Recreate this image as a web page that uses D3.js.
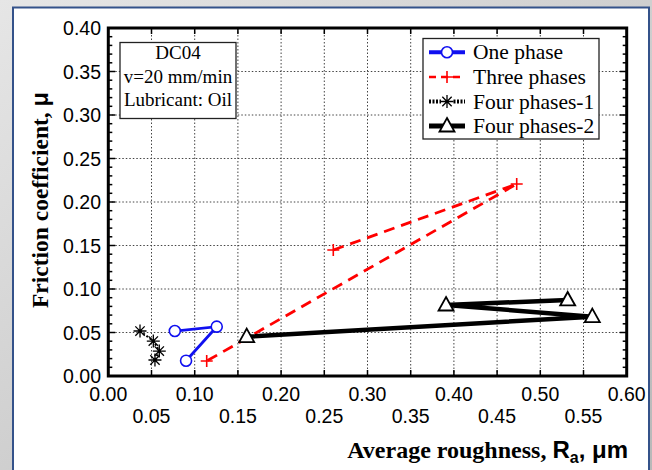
<!DOCTYPE html>
<html><head><meta charset="utf-8">
<script src="https://cdn.jsdelivr.net/npm/d3@7"></script>
<style>body{margin:0;background:#fff}svg{display:block}</style>
</head><body>
<script>
// ---- data ----
const onePhaseX = [0.077, 0.1255, 0.090];
const onePhaseY = [0.0517, 0.0567, 0.0176];
const threePhasesX = [0.2604, 0.4727, 0.1139];
const threePhasesY = [0.1448, 0.2207, 0.0172];
const fourPhases1X = [0.0367, 0.0521, 0.059, 0.054];
const fourPhases1Y = [0.0517, 0.0402, 0.0287, 0.0184];
const fourPhases2X = [0.1602, 0.5602, 0.3909, 0.5317];
const fourPhases2Y = [0.0452, 0.0682, 0.0816, 0.0874];
const xTicks = [0.00,0.05,0.10,0.15,0.20,0.25,0.30,0.35,0.40,0.45,0.50,0.55,0.60];
const yTicks = [0.00,0.05,0.10,0.15,0.20,0.25,0.30,0.35,0.40];
const seriesNames = ["One phase","Three phases","Four phases-1","Four phases-2"];
const infoLines = ["DC04","v=20 mm/min","Lubricant: Oil"];

const W=652,H=470;
const L=108.3,R=626.7,T=28,B=376;
const svg=d3.select("body").append("svg").attr("width",W).attr("height",H);
const defs=svg.append("defs");
const g1=defs.append("linearGradient").attr("id","bg").attr("x1",0).attr("y1",0).attr("x2",1).attr("y2",1);
g1.append("stop").attr("offset",0).attr("stop-color","#e6e6e6");
g1.append("stop").attr("offset",1).attr("stop-color","#b8b8b8");
svg.append("rect").attr("width",W).attr("height",H).attr("fill","url(#bg)");
svg.append("rect").attr("x",13).attr("y",7.5).attr("width",636).attr("height",480)
  .attr("fill","#fff").attr("stroke","#34528a").attr("stroke-width",2);

const x=d3.scaleLinear().domain([0,0.6]).range([L,R]);
const y=d3.scaleLinear().domain([0,0.4]).range([B,T]);

// grid
const grid=svg.append("g").attr("stroke","#444").attr("stroke-width",1).attr("stroke-dasharray","1.5,2");
xTicks.slice(1,-1).forEach(v=>grid.append("line").attr("x1",x(v)).attr("x2",x(v)).attr("y1",T).attr("y2",B));
yTicks.slice(1,-1).forEach(v=>grid.append("line").attr("y1",y(v)).attr("y2",y(v)).attr("x1",L).attr("x2",R));

// ticks (inward)
const tk=svg.append("g").attr("stroke","#000").attr("stroke-width",1.5);
const yMinor=d3.range(0,0.4001,0.01);
yMinor.forEach(v=>{
  const major=Math.abs(v*20-Math.round(v*20))<1e-6;
  const len=major?7:4;
  tk.append("line").attr("x1",L).attr("x2",L+len).attr("y1",y(v)).attr("y2",y(v));
  tk.append("line").attr("x1",R).attr("x2",R-len).attr("y1",y(v)).attr("y2",y(v));
});
xTicks.forEach(v=>{
  tk.append("line").attr("x1",x(v)).attr("x2",x(v)).attr("y1",B).attr("y2",B-6);
  tk.append("line").attr("x1",x(v)).attr("x2",x(v)).attr("y1",T).attr("y2",T+6);
});

// frame
svg.append("rect").attr("x",L).attr("y",T).attr("width",R-L).attr("height",B-T)
  .attr("fill","none").attr("stroke","#000").attr("stroke-width",3);

// tick labels
const tf="'Liberation Sans', Arial, sans-serif";
svg.append("g").selectAll("text").data(yTicks).join("text")
  .attr("x",101).attr("y",d=>y(d)).attr("dy","0.36em").attr("text-anchor","end")
  .attr("font-family",tf).attr("font-size",19.5).text(d=>d.toFixed(2));
svg.append("g").selectAll("text").data(xTicks).join("text")
  .attr("x",d=>x(d)).attr("y",(d,i)=>i%2===0?401:423).attr("text-anchor","middle")
  .attr("font-family",tf).attr("font-size",19.5).text(d=>d.toFixed(2));

// axis titles
const serif="'Liberation Serif','Times New Roman',serif";
const yl=svg.append("text").attr("transform","translate(48,200) rotate(-90)").attr("text-anchor","middle")
  .attr("font-family",serif).attr("font-weight","bold").attr("font-size",23.5);
yl.append("tspan").text("Friction coefficient, ");
yl.append("tspan").attr("font-family",tf).text("μ");
const xl=svg.append("text").attr("x",628).attr("y",458).attr("text-anchor","end")
  .attr("font-family",serif).attr("font-weight","bold").attr("font-size",24);
xl.append("tspan").text("Average roughness, ");
xl.append("tspan").attr("font-family",tf).text("R");
xl.append("tspan").attr("font-family",tf).attr("font-size",16).attr("dy",5).text("a");
xl.append("tspan").attr("font-family",tf).attr("dy",-5).text(", μm");

// series
const line=d3.line().x(d=>x(d[0])).y(d=>y(d[1]));
const zip=(a,b)=>a.map((v,i)=>[v,b[i]]);
const s1=zip(onePhaseX,onePhaseY), s2=zip(threePhasesX,threePhasesY),
      s3=zip(fourPhases1X,fourPhases1Y), s4=zip(fourPhases2X,fourPhases2Y);
const plot=svg.append("g");
plot.append("path").attr("d",line(s3)).attr("fill","none").attr("stroke","#000").attr("stroke-width",2).attr("stroke-dasharray","2,2");
plot.append("path").attr("d",line(s1)).attr("fill","none").attr("stroke","#1010f0").attr("stroke-width",2.8);
plot.append("path").attr("d",line(s2)).attr("fill","none").attr("stroke","#ff0000").attr("stroke-width",2.8).attr("stroke-dasharray","11,7");
plot.append("path").attr("d",line(s4)).attr("fill","none").attr("stroke","#000").attr("stroke-width",4.5);

function circle(g,cx,cy){g.append("circle").attr("cx",cx).attr("cy",cy).attr("r",5.5).attr("fill","#fff").attr("stroke","#1010f0").attr("stroke-width",1.6);}
function plus(g,cx,cy){g.append("path").attr("d",`M${cx-6},${cy}H${cx+6}M${cx},${cy-6}V${cy+6}`).attr("stroke","#ff0000").attr("stroke-width",1.6);}
function star(g,cx,cy){const r=6.5,d=r*0.72;g.append("path").attr("d",`M${cx-r},${cy}H${cx+r}M${cx},${cy-r}V${cy+r}M${cx-d},${cy-d}L${cx+d},${cy+d}M${cx-d},${cy+d}L${cx+d},${cy-d}`).attr("stroke","#000").attr("stroke-width",1.3);}
function tri(g,cx,cy){g.append("path").attr("d",`M${cx},${cy-8}L${cx+7.5},${cy+5.5}L${cx-7.5},${cy+5.5}Z`).attr("fill","#fff").attr("stroke","#000").attr("stroke-width",1.8);}
s1.forEach(d=>circle(plot,x(d[0]),y(d[1])));
s2.forEach(d=>plus(plot,x(d[0]),y(d[1])));
s3.forEach(d=>star(plot,x(d[0]),y(d[1])));
s4.forEach(d=>tri(plot,x(d[0]),y(d[1])));

// info box
svg.append("rect").attr("x",120).attr("y",42.5).attr("width",116).attr("height",76).attr("fill","#fff").attr("stroke","#222").attr("stroke-width",1.3);
svg.append("g").selectAll("text").data(infoLines).join("text")
  .attr("x",178).attr("y",(d,i)=>59+i*23.5).attr("text-anchor","middle")
  .attr("font-family",serif).attr("font-size",19).text(d=>d);

// legend
const lg=svg.append("g");
lg.append("rect").attr("x",423).attr("y",38.5).attr("width",176).attr("height",100.5).attr("fill","#fff").attr("stroke","#222").attr("stroke-width",1.3);
const rowY=[52.3,77,101.5,126];
const lx1=429,lx2=465,lm=447;
lg.append("line").attr("x1",lx1).attr("x2",lx2).attr("y1",rowY[0]).attr("y2",rowY[0]).attr("stroke","#1010f0").attr("stroke-width",4);
circle(lg,lm,rowY[0]);
lg.append("line").attr("x1",lx1).attr("x2",lx2).attr("y1",rowY[1]).attr("y2",rowY[1]).attr("stroke","#ff0000").attr("stroke-width",2.5).attr("stroke-dasharray","7,5");
plus(lg,lm,rowY[1]);
lg.append("line").attr("x1",lx1).attr("x2",lx2).attr("y1",rowY[2]).attr("y2",rowY[2]).attr("stroke","#000").attr("stroke-width",4).attr("stroke-dasharray","2,1.5");
lg.append("rect").attr("x",lm-6).attr("y",rowY[2]-7).attr("width",12).attr("height",14).attr("fill","#fff");
star(lg,lm,rowY[2]);
lg.append("line").attr("x1",lx1).attr("x2",lx2).attr("y1",rowY[3]).attr("y2",rowY[3]).attr("stroke","#000").attr("stroke-width",5);
tri(lg,lm,rowY[3]);
lg.selectAll("text.lab").data(seriesNames).join("text").attr("class","lab")
  .attr("x",473).attr("y",(d,i)=>rowY[i]+7).attr("font-family",serif).attr("font-size",21.5).text(d=>d);
</script>
</body></html>
